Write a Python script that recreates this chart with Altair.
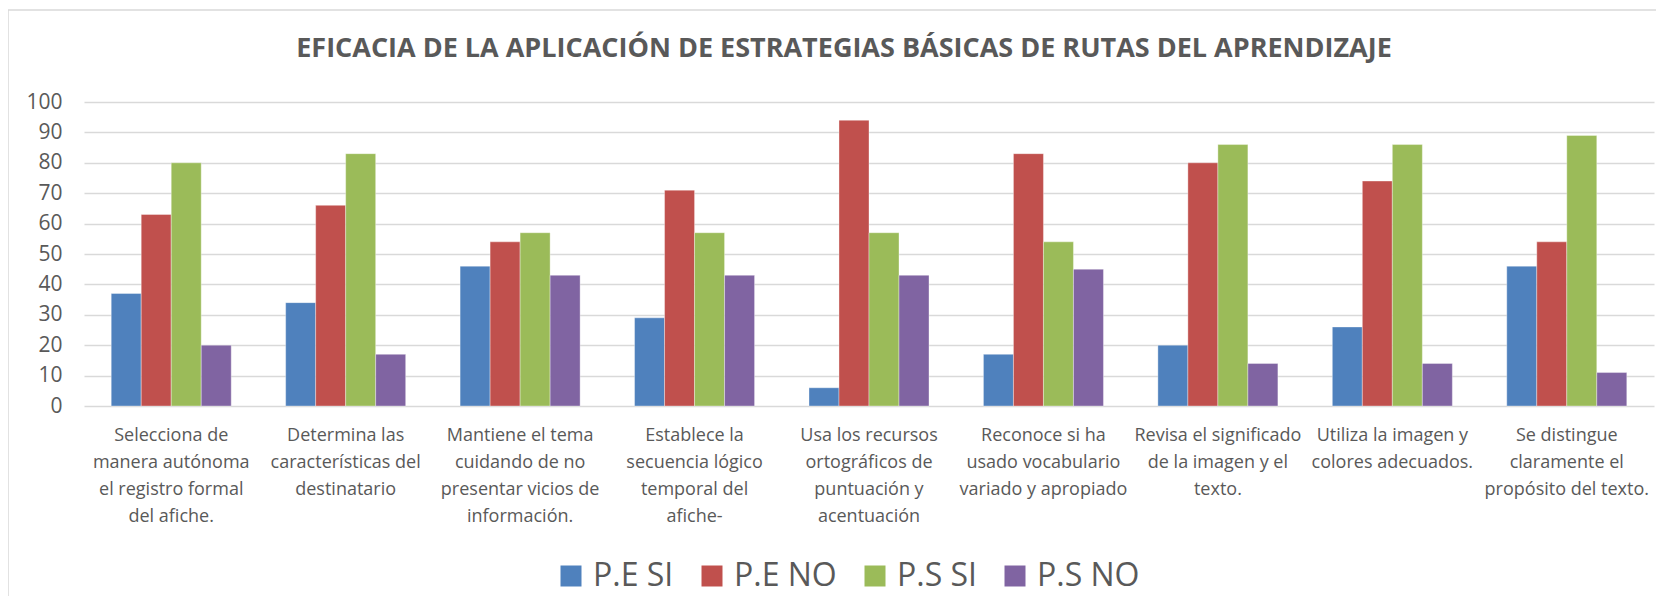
import altair as alt
import pandas as pd

categories = [
    "Selecciona de|manera autónoma|el registro formal|del afiche.",
    "Determina las|características del|destinatario",
    "Mantiene el tema|cuidando de no|presentar vicios de|información.",
    "Establece la|secuencia lógico|temporal del|afiche-",
    "Usa los recursos|ortográficos de|puntuación y|acentuación",
    "Reconoce si ha|usado vocabulario|variado y apropiado",
    "Revisa el significado|de la imagen y el|texto.",
    "Utiliza la imagen y|colores adecuados.",
    "Se distingue|claramente el|propósito del texto.",
]
series = ["P.E SI", "P.E NO", "P.S SI", "P.S NO"]
pe_si = [37, 34, 46, 29, 6, 17, 20, 26, 46]
pe_no = [63, 66, 54, 71, 94, 83, 80, 74, 54]
ps_si = [80, 83, 57, 57, 57, 54, 86, 86, 89]
ps_no = [20, 17, 43, 43, 43, 45, 14, 14, 11]
colors = ["#4F81BD", "#C0504D", "#9BBB59", "#8064A2"]

rows = []
for vals, s in zip([pe_si, pe_no, ps_si, ps_no], series):
    for c, v in zip(categories, vals):
        rows.append({"cat": c, "serie": s, "valor": v})
df = pd.DataFrame(rows)

FONT = "Open Sans"
GRAY = "#595959"

bars = alt.Chart(df).mark_bar(stroke="#ffffff", strokeWidth=0.6, strokeOpacity=0.6).encode(
    x=alt.X("cat:N", sort=categories, title=None,
            scale=alt.Scale(paddingInner=0.312, paddingOuter=0.156),
            axis=alt.Axis(labelAngle=0, labelExpr="split(datum.label, '|')",
                          labelFont=FONT, labelFontSize=18, labelColor=GRAY,
                          labelLineHeight=27.3, labelPadding=20, labelLimit=0,
                          ticks=False, domain=False, grid=False)),
    xOffset=alt.XOffset("serie:N", sort=series, scale=alt.Scale(paddingInner=0, paddingOuter=0)),
    y=alt.Y("valor:Q", title=None,
            scale=alt.Scale(domain=[0, 100], nice=False),
            axis=alt.Axis(values=list(range(0, 101, 10)), labelFont=FONT, labelFontSize=21,
                          labelColor=GRAY, labelPadding=22, ticks=False, domain=False,
                          grid=True, gridColor="#d9d9d9", gridWidth=1.6)),
    color=alt.Color("serie:N", sort=series,
                    scale=alt.Scale(domain=series, range=colors),
                    legend=alt.Legend(title=None, orient="none", direction="horizontal",
                                      legendX=471, legendY=458,
                                      symbolType="square", symbolSize=441,
                                      symbolStrokeWidth=0, labelFont=FONT,
                                      labelFontSize=32, labelColor=GRAY,
                                      labelOffset=6, columnPadding=22,
                                      labelLimit=0)),
)

border = alt.Chart(alt.Data(values=[{}])).mark_rule(color="#d9d9d9", strokeWidth=1.5)
left_border = border.encode(x=alt.value(-76), y=alt.value(-92), y2=alt.value(520))
top_border = border.encode(x=alt.value(-76), x2=alt.value(1580), y=alt.value(-92))

chart = alt.layer(bars, left_border, top_border).properties(
    width=1570,
    height=304,
    background="#ffffff",
    padding={"left": 76, "top": 94, "right": 2, "bottom": 190},
    autosize=alt.AutoSizeParams(type="none"),
    title=alt.Title("EFICACIA DE LA APLICACIÓN DE ESTRATEGIAS BÁSICAS DE RUTAS DEL APRENDIZAJE",
                    font=FONT, fontSize=27, fontWeight="bold", color=GRAY,
                    anchor="middle", dx=-25, offset=-54),
).configure_view(strokeOpacity=0, strokeWidth=0)

chart.save("out.html", embed_options={"renderer": "svg", "actions": False})
